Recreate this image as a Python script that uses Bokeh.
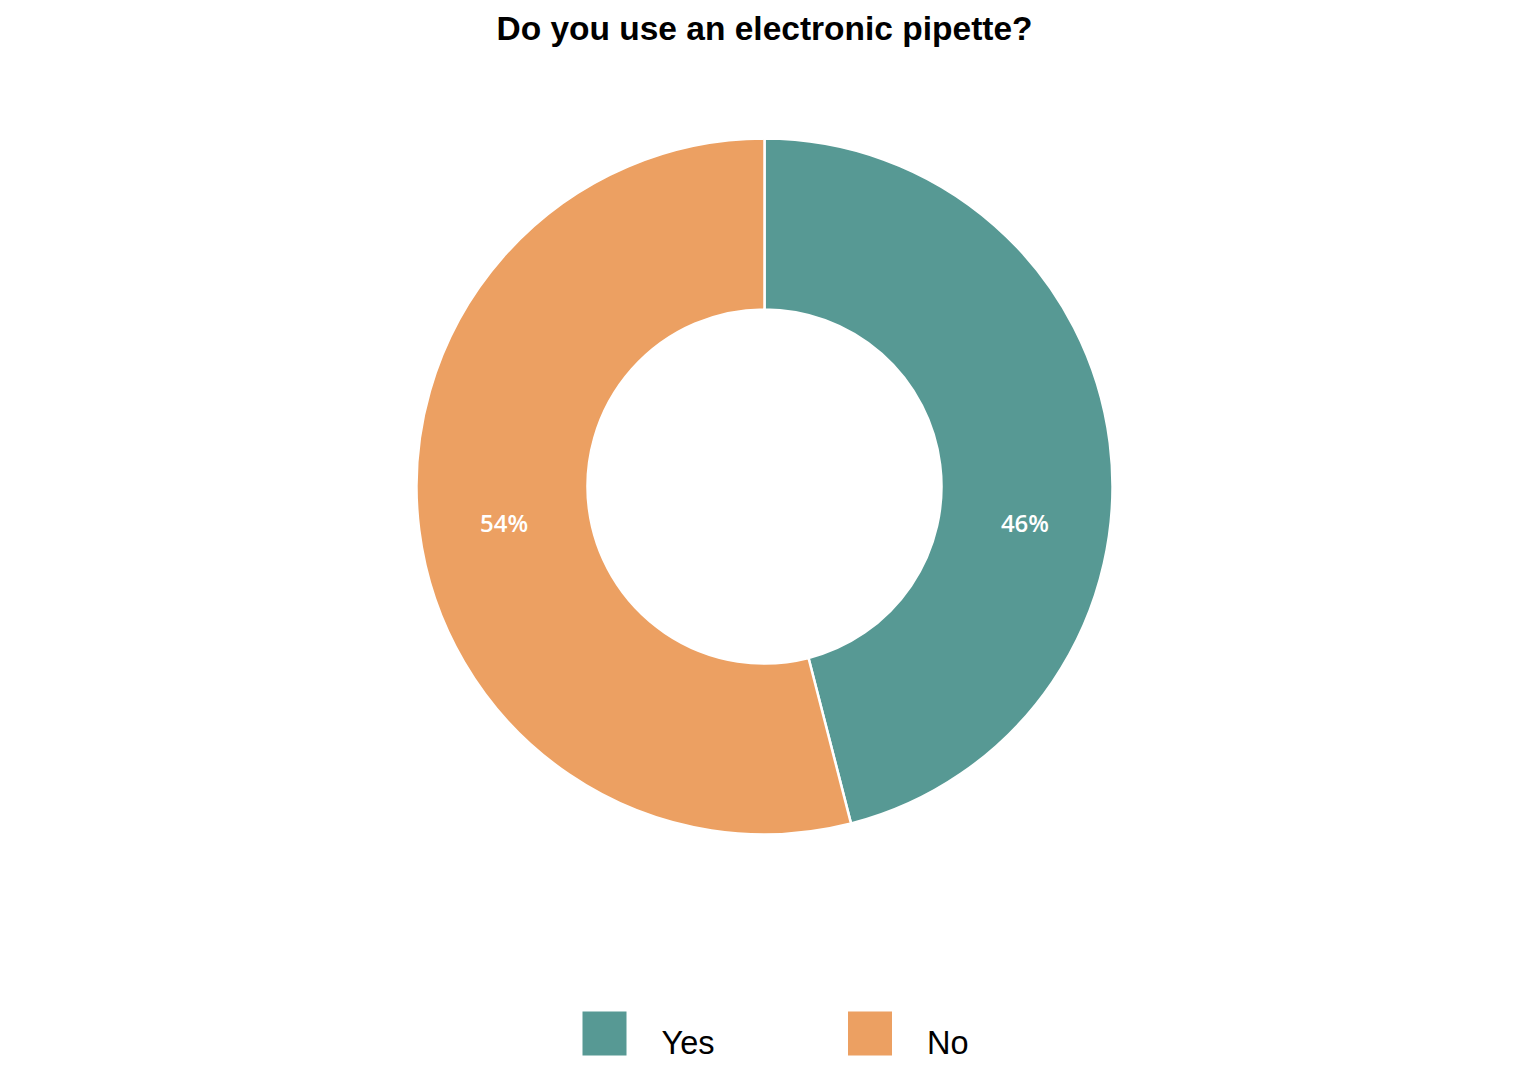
import math
from bokeh.plotting import figure
from bokeh.models import Range1d, ColumnDataSource
from bokeh.core.properties import value
from bokeh.embed import file_html
from bokeh.resources import INLINE

# ---- data ----
title_text = "Do you use an electronic pipette?"
categories = ["Yes", "No"]
shares = [46, 54]
colors = ["#579994", "#eca062"]

# ---- layout ----
W, H = 1518, 1072
p = figure(width=W, height=H, output_backend="svg", toolbar_location=None,
           x_range=Range1d(-764, 754), y_range=Range1d(486 - H, 486),
           min_border=0)
p.axis.visible = False
p.grid.visible = False
p.outline_line_color = None
p.background_fill_color = "#ffffff"
p.border_fill_color = "#ffffff"

R_OUT, R_IN = 348, 177
total = float(sum(shares))
starts, ends, lx, ly, labels = [], [], [], [], []
acc = 0.0
r_mid = (R_OUT + R_IN) / 2
for s in shares:
    a0 = math.pi / 2 - 2 * math.pi * acc / total
    a1 = math.pi / 2 - 2 * math.pi * (acc + s) / total
    starts.append(a0)
    ends.append(a1)
    mid = (a0 + a1) / 2
    lx.append(r_mid * math.cos(mid))
    ly.append(-abs(r_mid * math.sin(mid)) - 3)
    labels.append(f"{s}%")
    acc += s

src = ColumnDataSource(dict(start=starts, end=ends, color=colors, cat=categories,
                            lx=lx, ly=ly, label=labels))
p.annular_wedge(x=0, y=0, inner_radius=R_IN, outer_radius=R_OUT,
                start_angle="start", end_angle="end", direction="clock",
                fill_color="color", line_color="white", line_width=2.5, source=src)

p.text(x="lx", y="ly", text="label", source=src, text_color="white",
       text_font=value("Open Sans SemiBold, Open Sans"), text_font_style="normal",
       text_font_size="24px",
       text_align="center", text_baseline="middle")

# title
p.text(x=[0], y=[458], text=[title_text], text_color="#000000",
       text_font=value("Liberation Sans"), text_font_style="bold",
       text_font_size="33.5px", text_align="center", text_baseline="alphabetic")

# legend
leg_sq_x = [-160, 105.5]
leg_src = ColumnDataSource(dict(x=leg_sq_x, y=[-547, -547], color=colors, cat=categories,
                                tx=[v + 57 for v in leg_sq_x], ty=[-556, -556]))
p.rect(x="x", y="y", width=44, height=44, fill_color="color", line_color=None, source=leg_src)
p.text(x="tx", y="ty", text="cat", source=leg_src, text_color="#000000",
       text_font=value("Liberation Sans"), text_font_size="32.5px",
       text_align="left", text_baseline="alphabetic")

open("out.html", "w").write(file_html(p, INLINE))
